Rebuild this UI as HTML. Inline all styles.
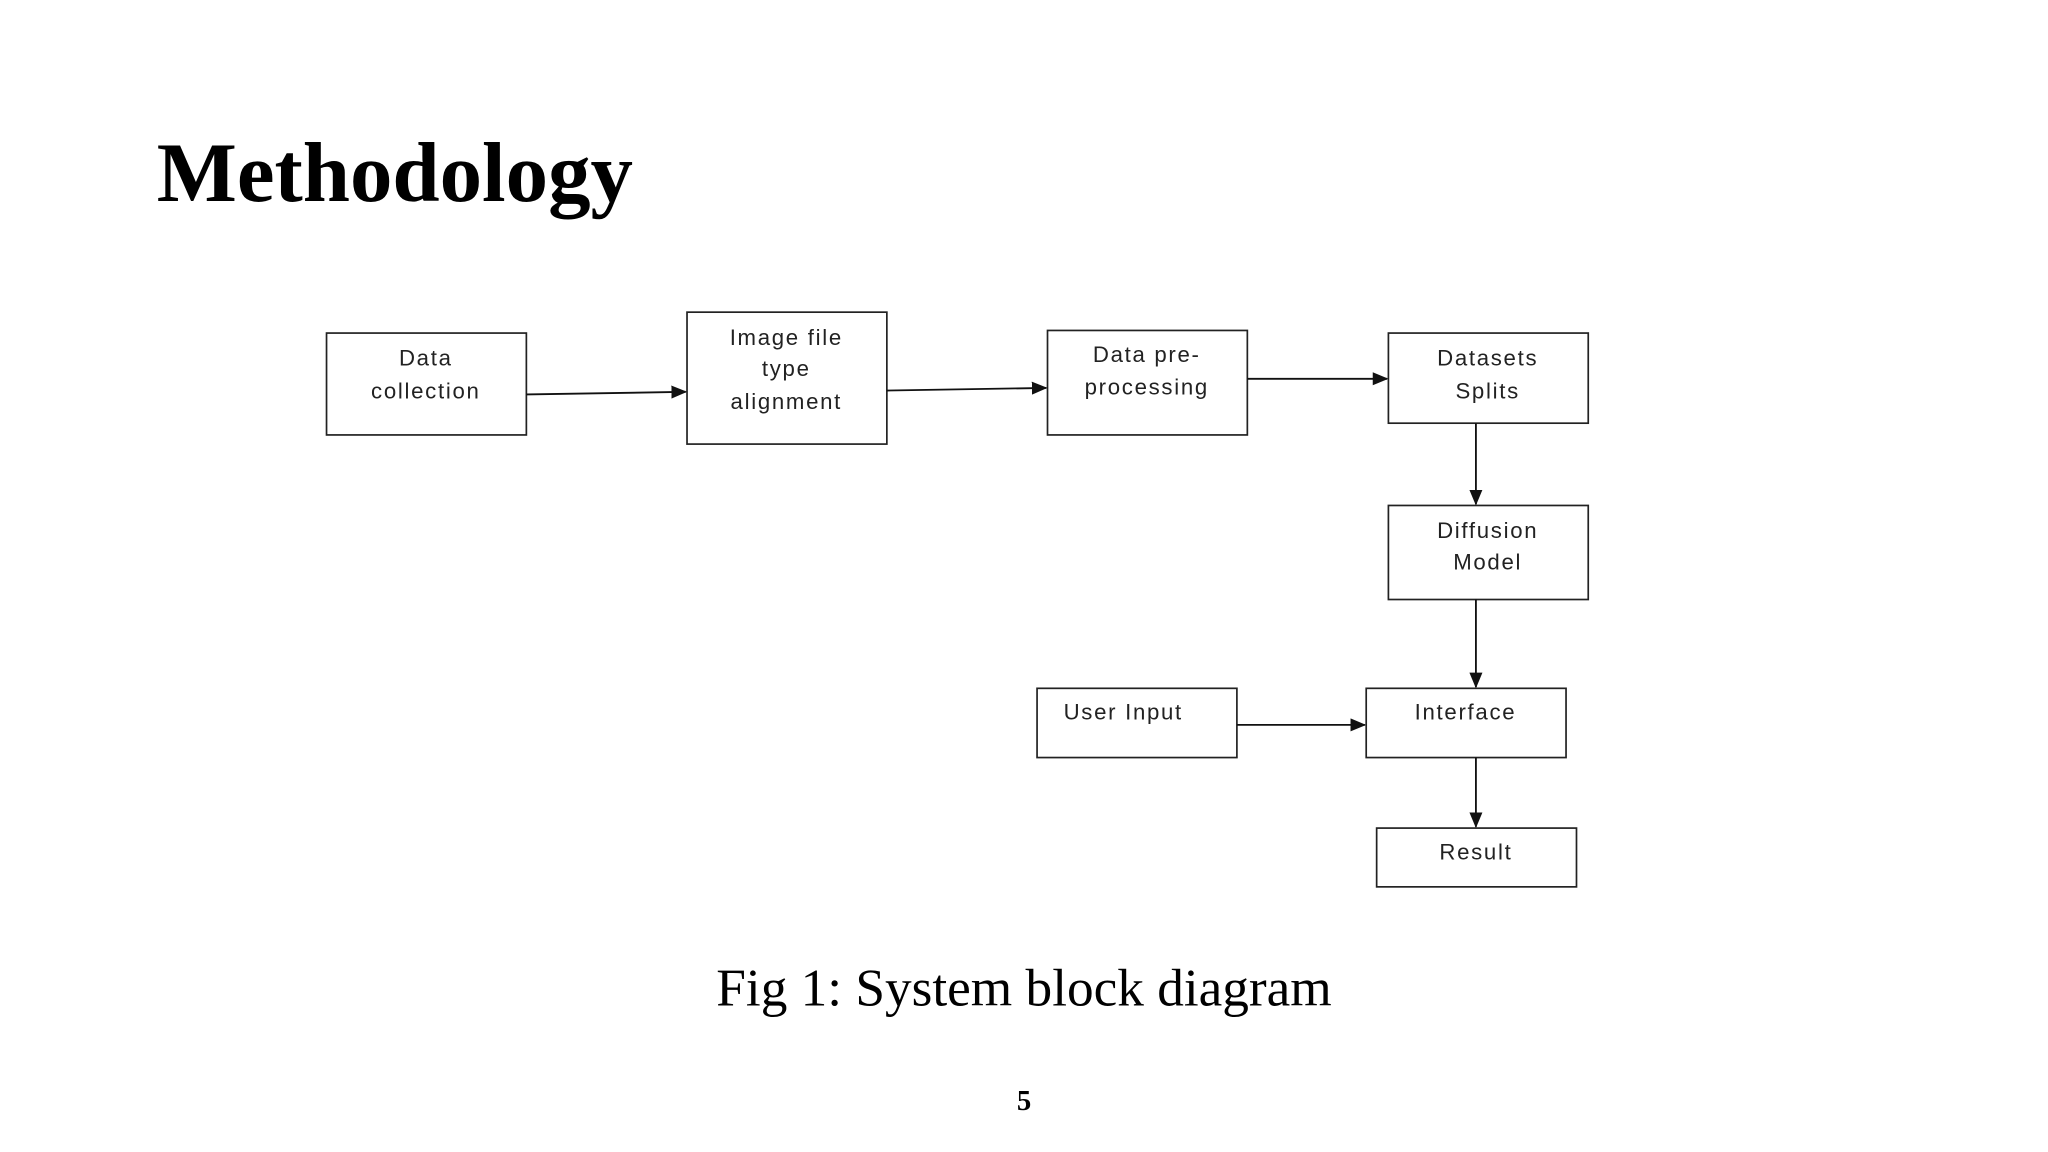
<!DOCTYPE html>
<html><head><style>
html,body{margin:0;padding:0;background:#fff;}
svg{display:block;}
.b{fill:#fff;stroke:#222;stroke-width:1.3;}
.t{font-family:"Liberation Sans",sans-serif;font-size:17px;fill:#222;text-anchor:middle;letter-spacing:1.3px;}
.l{stroke:#111;stroke-width:1.4;fill:none;}
</style></head><body>
<svg width="2048" height="1152" viewBox="0 0 1568 882" xmlns="http://www.w3.org/2000/svg">
<defs><marker id="a" markerWidth="12" markerHeight="10" refX="11" refY="5" orient="auto" markerUnits="userSpaceOnUse"><path d="M0,0 L12,5 L0,10 z" fill="#111"/></marker></defs>
<text x="120" y="154" font-family="Liberation Serif,serif" font-weight="bold" font-size="65" fill="#000">Methodology</text>
<rect class="b" x="250" y="255" width="153" height="78"/>
<text class="t" x="326" y="280">Data</text><text class="t" x="326" y="305">collection</text>
<rect class="b" x="526" y="239" width="153" height="101"/>
<text class="t" x="602" y="264">Image file</text><text class="t" x="602" y="288">type</text><text class="t" x="602" y="313">alignment</text>
<rect class="b" x="802" y="253" width="153" height="80"/>
<text class="t" x="878" y="277">Data pre-</text><text class="t" x="878" y="302">processing</text>
<rect class="b" x="1063" y="255" width="153" height="69"/>
<text class="t" x="1139" y="280">Datasets</text><text class="t" x="1139" y="305">Splits</text>
<rect class="b" x="1063" y="387" width="153" height="72"/>
<text class="t" x="1139" y="412">Diffusion</text><text class="t" x="1139" y="436">Model</text>
<rect class="b" x="794" y="527" width="153" height="53"/>
<text class="t" x="860" y="551">User Input</text>
<rect class="b" x="1046" y="527" width="153" height="53"/>
<text class="t" x="1122" y="551">Interface</text>
<rect class="b" x="1054" y="634" width="153" height="45"/>
<text class="t" x="1130" y="658">Result</text>
<line class="l" x1="403" y1="302" x2="525" y2="300" marker-end="url(#a)"/>
<line class="l" x1="679" y1="299" x2="801" y2="297" marker-end="url(#a)"/>
<line class="l" x1="955" y1="290" x2="1062" y2="290" marker-end="url(#a)"/>
<line class="l" x1="1130" y1="324" x2="1130" y2="386" marker-end="url(#a)"/>
<line class="l" x1="1130" y1="459" x2="1130" y2="526" marker-end="url(#a)"/>
<line class="l" x1="947" y1="555" x2="1045" y2="555" marker-end="url(#a)"/>
<line class="l" x1="1130" y1="580" x2="1130" y2="633" marker-end="url(#a)"/>
<text x="784" y="770" text-anchor="middle" font-family="Liberation Serif,serif" font-size="40.8" fill="#000">Fig 1: System block diagram</text>
<text x="784" y="850" text-anchor="middle" font-family="Liberation Serif,serif" font-weight="bold" font-size="22" fill="#000">5</text>
</svg>
</body></html>
